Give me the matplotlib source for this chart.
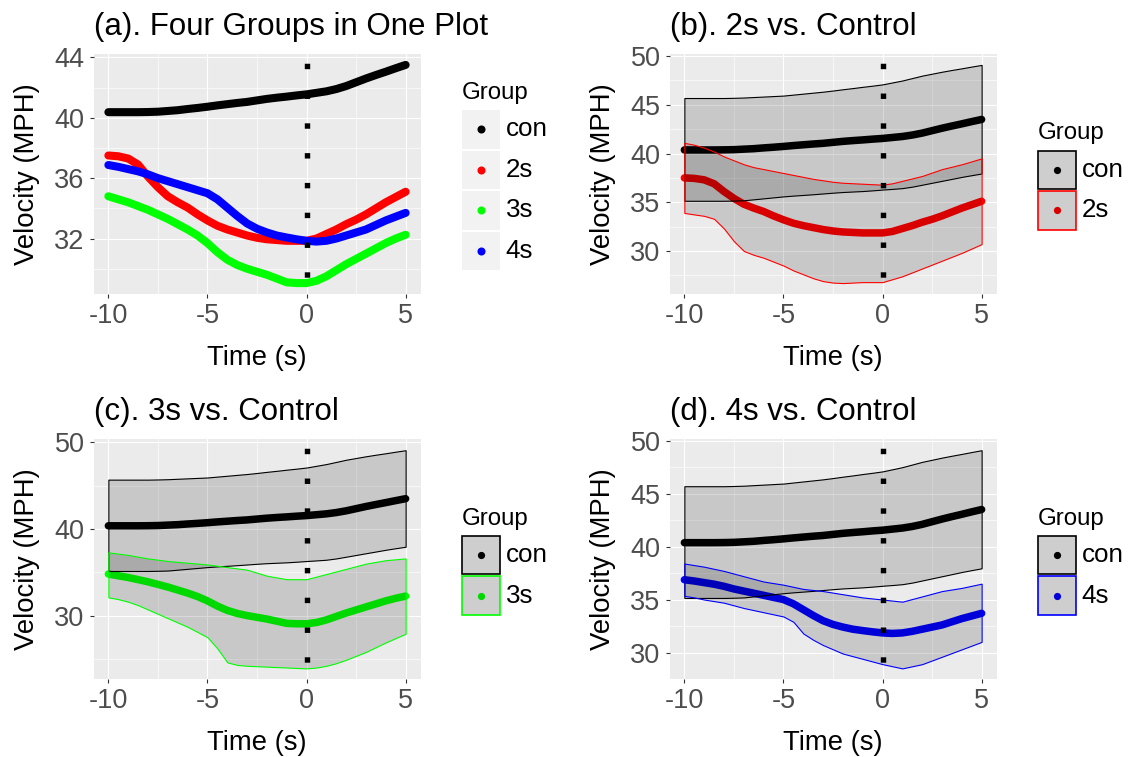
import matplotlib
matplotlib.use('Agg')
import matplotlib.pyplot as plt
from matplotlib.patches import Rectangle
from matplotlib.ticker import AutoMinorLocator

plt.rcParams['font.family'] = ['Liberation Sans', 'DejaVu Sans']

W, H = 1130, 757

# time (s) relative to event
time_s = [-10, -9.5, -9, -8.5, -8, -7.5, -7, -6.5, -6, -5.5, -5, -4.5, -4, -3.5, -3, -2.5,
          -2, -1.5, -1, -0.5, 0, 0.5, 1, 1.5, 2, 2.5, 3, 3.5, 4, 4.5, 5]

# mean velocity (MPH) per group
con_mean = [40.37, 40.37, 40.37, 40.37, 40.38, 40.4, 40.45, 40.5, 40.58, 40.65, 40.73, 40.82,
            40.9, 40.98, 41.05, 41.15, 41.25, 41.33, 41.4, 41.48, 41.55, 41.65, 41.75, 41.9,
            42.1, 42.35, 42.6, 42.83, 43.05, 43.28, 43.5]
s2_mean = [37.5, 37.45, 37.3, 36.9, 36.1, 35.4, 34.8, 34.4, 34.05, 33.6, 33.2, 32.85, 32.6,
           32.4, 32.2, 32.05, 31.95, 31.9, 31.85, 31.85, 31.85, 32.0, 32.3, 32.6, 32.95, 33.25,
           33.6, 34.0, 34.4, 34.75, 35.1]
s3_mean = [34.8, 34.6, 34.4, 34.15, 33.9, 33.6, 33.3, 32.95, 32.6, 32.2, 31.7, 31.1, 30.6,
           30.25, 30.0, 29.8, 29.6, 29.35, 29.1, 29.05, 29.05, 29.2, 29.5, 29.9, 30.3, 30.65,
           31.0, 31.35, 31.7, 32.0, 32.25]
s4_mean = [36.87, 36.75, 36.6, 36.45, 36.25, 36.0, 35.8, 35.6, 35.4, 35.2, 35.0, 34.6, 34.05,
           33.5, 33.0, 32.65, 32.4, 32.2, 32.07, 31.95, 31.85, 31.8, 31.85, 32.0, 32.2, 32.4,
           32.6, 32.9, 33.2, 33.45, 33.7]

# band limits
con_lower = [35.15, 35.15, 35.15, 35.15, 35.15, 35.17, 35.2, 35.3, 35.4, 35.5, 35.6, 35.68,
             35.75, 35.82, 35.9, 35.98, 36.05, 36.1, 36.15, 36.22, 36.3, 36.37, 36.45, 36.6,
             36.8, 37.0, 37.2, 37.4, 37.6, 37.78, 37.95]
con_upper = [45.7, 45.7, 45.7, 45.7, 45.7, 45.72, 45.75, 45.8, 45.85, 45.9, 45.95, 46.05,
             46.15, 46.25, 46.35, 46.47, 46.6, 46.72, 46.85, 46.97, 47.1, 47.3, 47.5, 47.75,
             48.0, 48.2, 48.4, 48.58, 48.75, 48.93, 49.1]
s2_lower = [33.9, 33.75, 33.6, 33.3, 32.3, 31.0, 30.0, 29.6, 29.3, 28.9, 28.5, 28.0, 27.6,
            27.2, 26.9, 26.75, 26.7, 26.75, 26.8, 26.8, 26.8, 27.1, 27.4, 27.8, 28.2, 28.6,
            29.0, 29.4, 29.8, 30.25, 30.7]
s2_upper = [41.1, 40.9, 40.6, 40.2, 39.7, 39.3, 38.9, 38.6, 38.4, 38.2, 38.0, 37.8, 37.6,
            37.4, 37.25, 37.1, 37.0, 36.95, 36.9, 36.85, 36.8, 36.95, 37.2, 37.45, 37.7, 38.05,
            38.4, 38.65, 38.9, 39.2, 39.5]
s3_lower = [32.1, 31.9, 31.6, 31.2, 30.7, 30.2, 29.7, 29.2, 28.7, 28.1, 27.5, 26.2, 24.6,
            24.3, 24.2, 24.15, 24.1, 24.05, 24.0, 23.95, 23.9, 24.0, 24.2, 24.5, 24.9, 25.35,
            25.8, 26.35, 26.9, 27.4, 27.9]
s3_upper = [37.3, 37.15, 37.0, 36.8, 36.6, 36.45, 36.3, 36.2, 36.1, 36.0, 35.9, 35.75, 35.6,
            35.45, 35.3, 34.95, 34.6, 34.4, 34.2, 34.2, 34.2, 34.5, 34.8, 35.1, 35.4, 35.7,
            36.0, 36.2, 36.4, 36.5, 36.6]
s4_lower = [35.35, 35.2, 35.0, 34.85, 34.7, 34.45, 34.2, 34.0, 33.8, 33.6, 33.4, 32.9, 31.8,
            31.2, 30.7, 30.3, 29.9, 29.65, 29.4, 29.15, 28.9, 28.7, 28.5, 28.7, 28.9, 29.25,
            29.6, 29.95, 30.3, 30.65, 31.0]
s4_upper = [38.4, 38.25, 38.1, 37.9, 37.7, 37.45, 37.2, 36.95, 36.7, 36.55, 36.4, 36.2, 36.0,
            35.9, 35.8, 35.65, 35.5, 35.35, 35.2, 35.1, 35.0, 34.9, 34.8, 35.05, 35.3, 35.55,
            35.8, 35.95, 36.1, 36.3, 36.5]

group_names = ['con', '2s', '3s', '4s']
group_colors = ['#000000', '#FF0000', '#00FF00', '#0000FF']
group_dark = ['#000000', '#D90000', '#00D900', '#0000D9']

titles = ['(a). Four Groups in One Plot', '(b). 2s vs. Control',
          '(c). 3s vs. Control', '(d). 4s vs. Control']
x_ticks = [-10, -5, 0, 5]
y_ticks = [[32, 36, 40, 44], [30, 35, 40, 45, 50], [30, 40, 50], [30, 35, 40, 45, 50]]

means = [con_mean, s2_mean, s3_mean, s4_mean]
lowers = [con_lower, s2_lower, s3_lower, s4_lower]
uppers = [con_upper, s2_upper, s3_upper, s4_upper]

PW, PH = 327, 240
panel_pos = [(93.5, 54), (669.5, 54), (93.5, 439.3), (669.5, 439.3)]

fig = plt.figure(figsize=(W / 100, H / 100), dpi=100)
fig.patch.set_facecolor('white')

# overlay in pixel coords for the legends
lax = fig.add_axes([0, 0, 1, 1], zorder=10)
lax.set_xlim(0, W)
lax.set_ylim(H, 0)
lax.axis('off')


def make_axes(left, top):
    ax = fig.add_axes([left / W, 1 - (top + PH) / H, PW / W, PH / H])
    ax.set_facecolor('#EBEBEB')
    for s in ax.spines.values():
        s.set_visible(False)
    ax.set_axisbelow(True)
    ax.grid(which='major', color='white', lw=0.85)
    ax.grid(which='minor', color='white', lw=0.45)
    ax.tick_params(which='major', length=2.9, width=0.8, color='#333333',
                   labelsize=19.5, labelcolor='#4D4D4D', pad=3.5)
    ax.tick_params(which='minor', length=0)
    return ax


def draw_legend(left, top, idx, ribbon):
    key_w, key_h, gap = 38, 38.5, 2
    x0 = left + PW + 41
    total = len(idx) * key_h + (len(idx) - 1) * gap
    y0 = top + PH / 2 + 16 - total / 2
    lax.text(x0, y0 - 17, 'Group', fontsize=17.3, ha='left', va='center')
    for i, g in enumerate(idx):
        yk = y0 + i * (key_h + gap)
        if ribbon:
            lax.add_patch(Rectangle((x0, yk), key_w, key_h, facecolor='#CECECE',
                                    edgecolor=group_colors[g], lw=1.2))
            dot = group_dark[g]
            ms = 5.2
        else:
            lax.add_patch(Rectangle((x0, yk), key_w, key_h, facecolor='#F2F2F2',
                                    edgecolor='none'))
            dot = group_colors[g]
            ms = 5.8
        lax.plot(x0 + key_w / 2, yk + key_h / 2, 'o', color=dot, ms=ms, mew=0)
        lax.text(x0 + key_w + 6, yk + key_h / 2, group_names[g], fontsize=18.7,
                 ha='left', va='center')


for p in range(4):
    left, top = panel_pos[p]
    ax = make_axes(left, top)
    if p == 0:
        shown = [0, 1, 2, 3]
        for g in shown:
            ax.plot(time_s, means[g], color=group_colors[g], lw=5.8,
                    solid_capstyle='round', solid_joinstyle='round', zorder=2)
    else:
        shown = [0, p]
        for g in shown:
            ax.plot(time_s, means[g], color=group_colors[g], lw=5.4,
                    solid_capstyle='round', solid_joinstyle='round', zorder=2)
        for g in shown:
            ax.fill_between(time_s, lowers[g], uppers[g], facecolor=(0, 0, 0, 0.15),
                            edgecolor=group_colors[g], lw=0.8, zorder=3)
    ax.axvline(0, color='black', lw=3.9, linestyle=(2.4, (1, 4.5)),
               dash_capstyle='butt', zorder=5)
    ax.set_xticks(x_ticks)
    ax.set_xticklabels([str(v) for v in x_ticks])
    ax.set_yticks(y_ticks[p])
    ax.xaxis.set_minor_locator(AutoMinorLocator(2))
    ax.yaxis.set_minor_locator(AutoMinorLocator(2))
    ax.set_title(titles[p], loc='left', fontsize=22.5, pad=13.7)
    ax.set_xlabel('Time (s)', fontsize=19.8)
    ax.xaxis.label.set_va('center')
    ax.xaxis.set_label_coords(0.5, -(358 - 294) / PH)
    ax.set_ylabel('Velocity (MPH)', fontsize=19.8)
    ax.yaxis.label.set_va('center')
    ax.yaxis.set_label_coords(-(93.5 - 27.5) / PW, 0.5)
    draw_legend(left, top, shown, ribbon=(p > 0))

fig.savefig('out.png', dpi=100)
